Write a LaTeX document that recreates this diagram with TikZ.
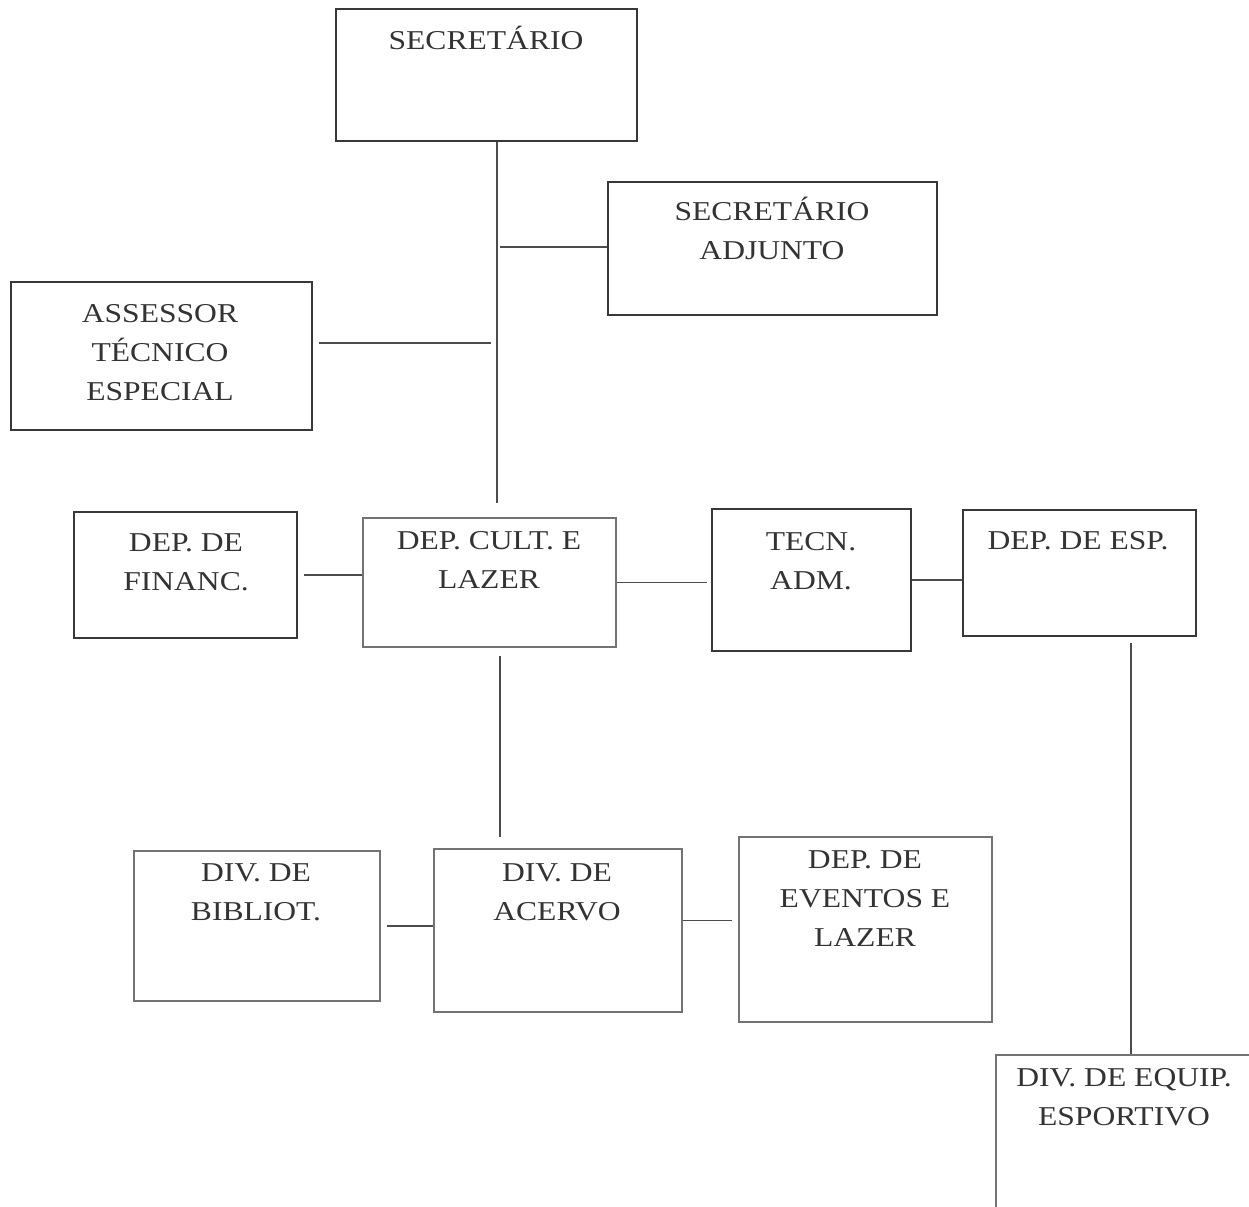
\documentclass[tikz,border=0pt]{standalone}
\usepackage{fontspec}
\setmainfont{Liberation Serif}[FakeStretch=1.16]
\usetikzlibrary{fit,calc}

\begin{document}
\begin{tikzpicture}[x=0.02cm, y=-0.02cm,
    caixa/.style={draw=black!78, line width=0.9pt, inner sep=0pt},
    caixaclara/.style={draw=black!55, line width=0.7pt, inner sep=0pt},
    rotulo/.style={text=black!80, font=\fontsize{15.5}{22}\selectfont, align=center, inner sep=0pt, anchor=base},
    ligacao/.style={draw=black!70, line width=0.8pt}]
        \clip (0,0) rectangle (1249,1207);

        % Direcao
        \node (SEC) [caixa, fit={(336,9) (637,141)}] {};
        \node (SECt) [rotulo] at (486,49) {SECRETÁRIO};
        \node (ADJ) [caixa, fit={(608,182) (937,315)}] {};
        \node (ADJt) [rotulo] at (772,259) {SECRETÁRIO\\ADJUNTO};
        \node (ASR) [caixa, fit={(11,282) (312,430)}] {};
        \node (ASRt) [rotulo] at (160,400) {ASSESSOR\\TÉCNICO\\ESPECIAL};

        % Departamentos
        \node (FIN) [caixa, fit={(74,512) (297,638)}] {};
        \node (FINt) [rotulo] at (186,590) {DEP. DE\\FINANC.};
        \node (CUL) [caixaclara, fit={(363,518) (616,647)}] {};
        \node (CULt) [rotulo] at (489,588) {DEP. CULT. E\\LAZER};
        \node (TEC) [caixa, fit={(712,509) (911,651)}] {};
        \node (TECt) [rotulo] at (811,589) {TECN.\\ADM.};
        \node (ESP) [caixa, fit={(963,510) (1196,636)}] {};
        \node (ESPt) [rotulo] at (1078,549) {DEP. DE ESP.};

        % Divisoes
        \node (BIB) [caixaclara, fit={(134,851) (380,1001)}] {};
        \node (BIBt) [rotulo] at (256,920) {DIV. DE\\BIBLIOT.};
        \node (ACV) [caixaclara, fit={(434,849) (682,1012)}] {};
        \node (ACVt) [rotulo] at (557,920) {DIV. DE\\ACERVO};
        \node (EVT) [caixaclara, fit={(739,837) (992,1022)}] {};
        \node (EVTt) [rotulo] at (865,946) {DEP. DE\\EVENTOS E\\LAZER};
        \node (EQP) [caixaclara, fit={(996,1055) (1290,1240)}] {};
        \node (EQPt) [rotulo] at (1124,1125) {DIV. DE EQUIP.\\ESPORTIVO};

        % Pontos de ligacao
        \coordinate (eixo) at (497,503);
        \coordinate (asrj) at (491,343);
        \coordinate (adjj) at (500,247);
        \coordinate (culd) at (500,656);
        \coordinate (espd) at (1131,643);

        % Ligacoes
        \draw[ligacao] (SEC.south -| eixo) -- (eixo);
        \draw[ligacao] (adjj) -- (adjj -| ADJ.west);
        \draw[ligacao, shorten <=0.12cm] (ASR.east |- asrj) -- (asrj);
        \draw[ligacao, shorten <=0.12cm] (FIN.east) -- (FIN.east -| CUL.west);
        \draw[ligacao, shorten >=0.08cm] (CUL.east) -- (CUL.east -| TEC.west);
        \draw[ligacao] (TEC.east) -- (TEC.east -| ESP.west);
        \draw[ligacao] (espd) -- (espd |- EQP.north);
        \draw[ligacao, shorten >=0.22cm] (culd) -- (culd |- ACV.north);
        \draw[ligacao, shorten <=0.12cm] (BIB.east) -- (BIB.east -| ACV.west);
        \draw[ligacao, shorten >=0.12cm] ($(ACV.east)+(0,-10)$) -- ($(ACV.east -| EVT.west)+(0,-10)$);
    \end{tikzpicture}
\end{document}
